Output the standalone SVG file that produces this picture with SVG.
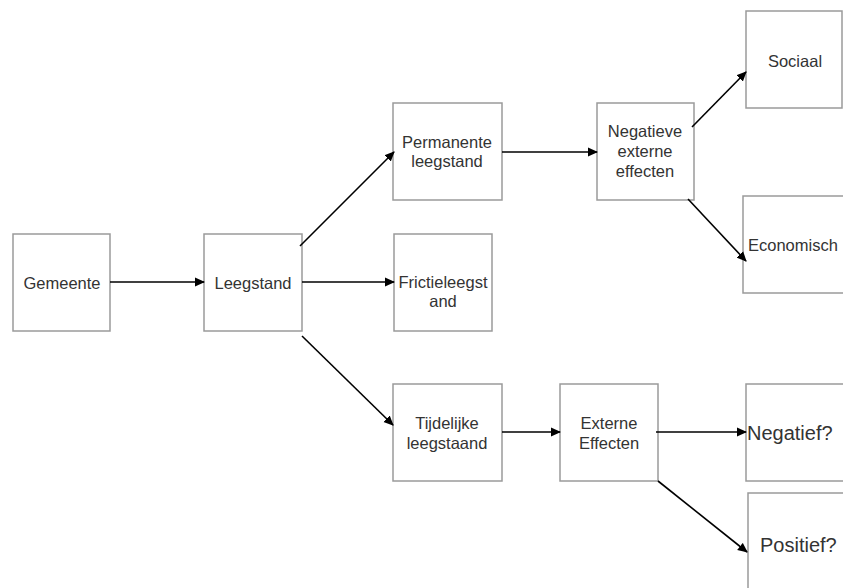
<svg xmlns="http://www.w3.org/2000/svg" width="843" height="588" viewBox="0 0 843 588">
<style>
.box{fill:#fff;stroke:#9a9a9a;stroke-width:1.5}
text{font-family:"Liberation Sans",Arial,sans-serif;font-size:16.5px;fill:#333;text-anchor:middle}
.big{font-size:20px}
.c line{stroke:#000;stroke-width:1.6;fill:none}
</style>
<defs>
<marker id="ah" markerWidth="10" markerHeight="10" refX="9" refY="5" orient="auto" markerUnits="userSpaceOnUse">
<path d="M0,0.5 L10,5 L0,9.5 z" fill="#000"/>
</marker>
</defs>
<rect width="843" height="588" fill="#fff"/>
<g id="gemeente"><rect class="box" x="13" y="234" width="97" height="97"/><text x="62" y="289">Gemeente</text></g>
<g id="leegstand"><rect class="box" x="204" y="234" width="98" height="97"/><text x="253" y="289">Leegstand</text></g>
<g id="frictie"><rect class="box" x="394" y="234" width="98" height="97"/><text x="443" y="288">Frictieleegst</text><text x="443" y="307">and</text></g>
<g id="permanente"><rect class="box" x="393" y="103" width="109" height="97"/><text x="447" y="148">Permanente</text><text x="447" y="167">leegstand</text></g>
<g id="negatieve"><rect class="box" x="597" y="103" width="97" height="97"/><text x="645" y="137">Negatieve</text><text x="645" y="157">externe</text><text x="645" y="177">effecten</text></g>
<g id="sociaal"><rect class="box" x="746" y="11" width="96" height="97"/><text x="795" y="67">Sociaal</text></g>
<g id="economisch"><rect class="box" x="743" y="196" width="110" height="97"/><text x="748" y="251" style="text-anchor:start">Economisch</text></g>
<g id="tijdelijke"><rect class="box" x="393" y="384" width="109" height="97"/><text x="447" y="429">Tijdelijke</text><text x="447" y="449">leegstaand</text></g>
<g id="externe"><rect class="box" x="560" y="384" width="98" height="97"/><text x="609" y="429">Externe</text><text x="609" y="449">Effecten</text></g>
<g id="negatief"><rect class="box" x="746" y="384" width="110" height="97"/><text class="big" x="747" y="440" style="text-anchor:start">Negatief?</text></g>
<g id="positief"><rect class="box" x="748" y="493" width="110" height="110"/><text class="big" x="760" y="552" style="text-anchor:start">Positief?</text></g>
<g class="c" id="connectors">
<line x1="110" y1="282" x2="204" y2="282" marker-end="url(#ah)"/>
<line x1="302" y1="282" x2="394" y2="282" marker-end="url(#ah)"/>
<line x1="300" y1="246" x2="394" y2="152" marker-end="url(#ah)"/>
<line x1="302" y1="336" x2="393" y2="425" marker-end="url(#ah)"/>
<line x1="502" y1="152" x2="597" y2="152" marker-end="url(#ah)"/>
<line x1="692" y1="127" x2="746" y2="72" marker-end="url(#ah)"/>
<line x1="688" y1="199" x2="746" y2="261" marker-end="url(#ah)"/>
<line x1="502" y1="432" x2="560" y2="432" marker-end="url(#ah)"/>
<line x1="656" y1="432" x2="746" y2="432" marker-end="url(#ah)"/>
<line x1="658" y1="481" x2="747" y2="552" marker-end="url(#ah)"/>
</g>
</svg>
